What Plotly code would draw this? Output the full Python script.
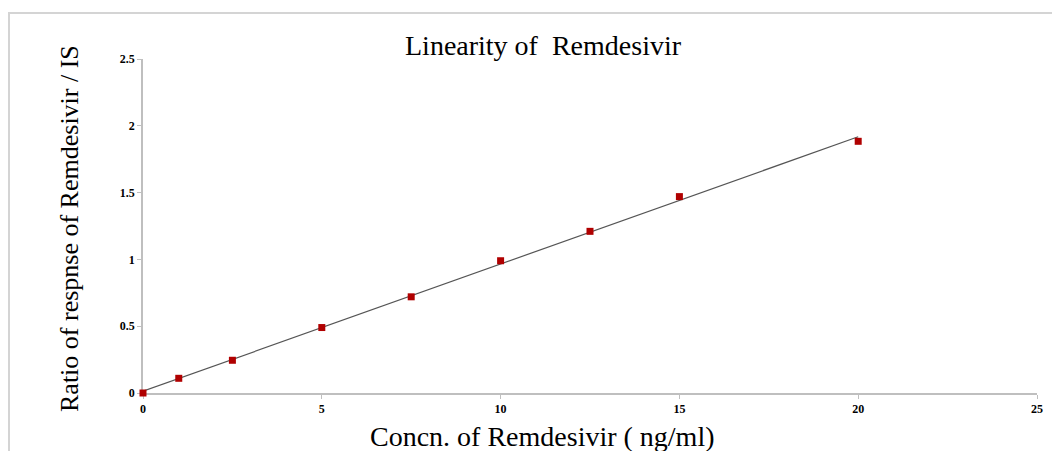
import numpy as np
import plotly.graph_objects as go

concentration = [0, 1, 2.5, 5, 7.5, 10, 12.5, 15, 20]
ratio = [0.0, 0.11, 0.245, 0.49, 0.72, 0.99, 1.21, 1.47, 1.884]
x_ticks = [0, 5, 10, 15, 20, 25]
y_ticks = [0, 0.5, 1, 1.5, 2, 2.5]

slope, intercept = np.polyfit(concentration, ratio, 1)
fit_x = [min(concentration), max(concentration)]
fit_y = [slope * v + intercept for v in fit_x]

fig = go.Figure()
fig.add_trace(go.Scatter(x=fit_x, y=fit_y, mode="lines",
                         line=dict(color="#555555", width=1.2), showlegend=False))
fig.add_trace(go.Scatter(x=concentration, y=ratio, mode="markers",
                         marker=dict(symbol="square", size=7, color="#B00000"),
                         showlegend=False, cliponaxis=False))

serif = "Liberation Serif, Times New Roman, serif"
axis_common = dict(showgrid=False, zeroline=False, showline=True, linecolor="#BFBFBF",
                   linewidth=1.5, ticks="outside", ticklen=4, tickcolor="#BFBFBF",
                   layer="below traces",
                   tickfont=dict(family=serif, size=12, color="#000000", weight="bold"))

# page offset of 8px (body margin) is compensated in the figure size/margins
PX0, PY0, PW, PH = 143, 393, 894, 334

fig.update_layout(
    width=1052, height=443,
    paper_bgcolor="white", plot_bgcolor="white",
    margin=dict(l=135, r=23, t=51, b=58),
    xaxis=dict(range=[0, 25], tickvals=x_ticks, **axis_common),
    yaxis=dict(range=[0, 2.5], tickvals=y_ticks, **axis_common),
    shapes=[dict(type="rect", xref="paper", yref="paper", x0=(9 - PX0) / PW, x1=1.2,
                 y0=-0.4, y1=(PY0 - 13) / PH, line=dict(color="#D4D4D4", width=2))],
    annotations=[
        dict(text="Linearity of\u00a0\u00a0Remdesivir", xref="paper", yref="paper",
             x=(543 - PX0) / PW, y=(PY0 - 46) / PH, showarrow=False,
             xanchor="center", yanchor="middle",
             font=dict(family=serif, size=28, color="#000000")),
        dict(text="Concn. of Remdesivir ( ng/ml)", xref="paper", yref="paper",
             x=(542 - PX0) / PW, y=(PY0 - 436) / PH, showarrow=False,
             xanchor="center", yanchor="middle",
             font=dict(family=serif, size=28, color="#000000")),
        dict(text="Ratio of respnse of Remdesivir / IS", xref="paper", yref="paper",
             x=(69 - PX0) / PW, y=(PY0 - 229) / PH, showarrow=False, textangle=-90,
             xanchor="center", yanchor="middle",
             font=dict(family=serif, size=26, color="#000000")),
    ],
)

fig.write_html("out.html")
